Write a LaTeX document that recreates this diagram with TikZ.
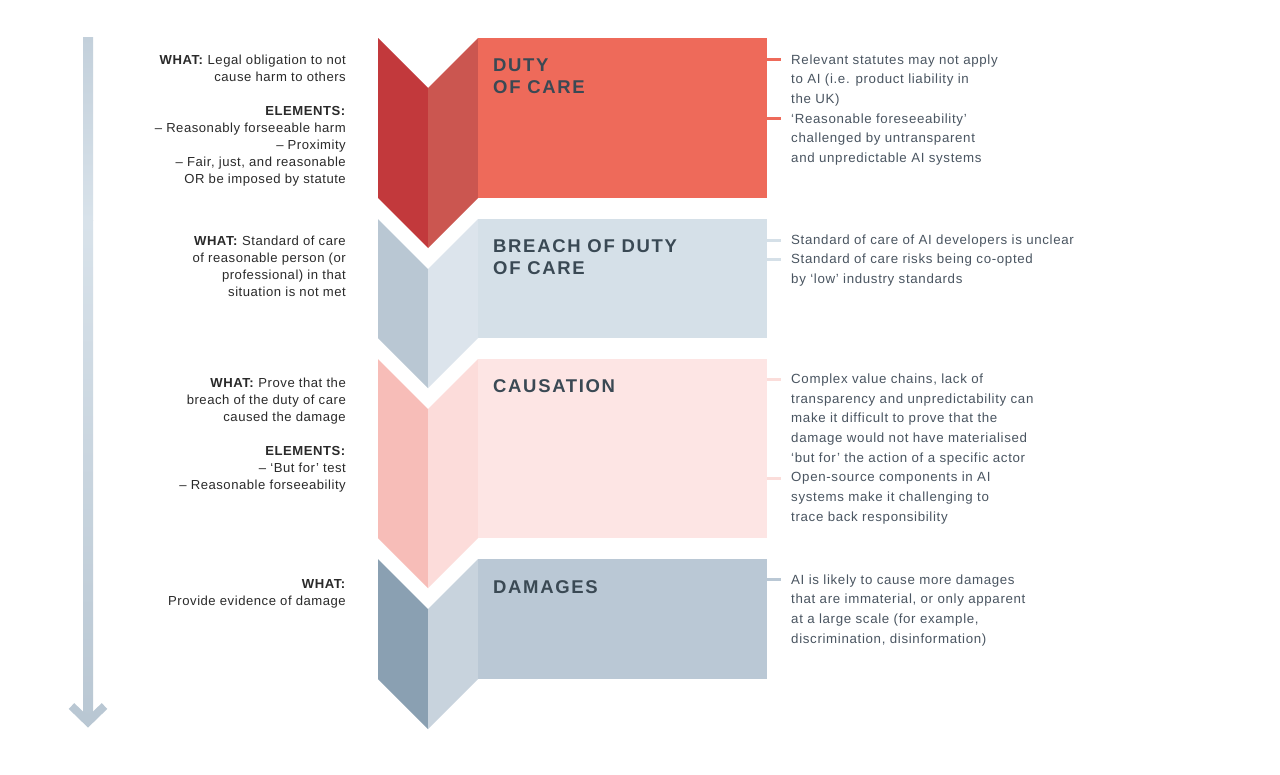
\documentclass[tikz,border=0pt]{standalone}
\usepackage{fontspec}
\setmainfont{Liberation Sans}
\newfontfamily\rfont{Liberation Sans}[LetterSpace=5]
\newfontfamily\lfont{Liberation Sans}[LetterSpace=4]
\newfontfamily\tfont{Liberation Sans}[LetterSpace=9]
\definecolor{dutyA}{HTML}{C2393C}
\definecolor{dutyB}{HTML}{CB5650}
\definecolor{dutyC}{HTML}{EE6A5A}
\definecolor{brA}{HTML}{B9C7D3}
\definecolor{brB}{HTML}{DCE4EC}
\definecolor{brC}{HTML}{D5E0E8}
\definecolor{caA}{HTML}{F7BDB8}
\definecolor{caB}{HTML}{FCDCDA}
\definecolor{caC}{HTML}{FDE5E4}
\definecolor{dmA}{HTML}{8AA0B2}
\definecolor{dmB}{HTML}{C8D3DD}
\definecolor{dmC}{HTML}{BAC8D5}
\definecolor{ttl}{HTML}{3A4954}
\definecolor{rgray}{HTML}{4A5561}
\definecolor{ltxt}{HTML}{2A2A2A}
\definecolor{arrT}{HTML}{C3D0DB}
\definecolor{arrM}{HTML}{D8E2EA}
\definecolor{arrB}{HTML}{B9C7D3}
\definecolor{caConn}{HTML}{FBDDDA}
\begin{document}
\begin{tikzpicture}[x=1pt,y=-1pt,
  block/.style={anchor=north west, inner sep=0pt, outer sep=0pt, minimum width=289pt},
  ttext/.style={anchor=base west, inner sep=0pt, text=ttl, font=\tfont\bfseries\fontsize{18.5}{22}\selectfont},
  rtext/.style={anchor=base west, inner sep=0pt, text=rgray, font=\rfont\fontsize{13.3}{19.7}\selectfont},
  ltext/.style={anchor=base east, inner sep=0pt, text=ltxt, font=\lfont\fontsize{13.1}{17}\selectfont},
  conn/.style={draw=#1, line width=3pt},
  arrw/.style={draw=arrB, line width=8pt, miter limit=10}]
\useasboundingbox[fill=white] (0,0) rectangle (1280,774);

% ---- timeline arrow
\shade[top color=arrT, bottom color=arrM] (83,37) rectangle (93,220);
\shade[top color=arrM, bottom color=arrB] (83,220) rectangle (93,722);
\coordinate (aL) at (71.5,706);
\coordinate (aT) at (88,722);
\coordinate (aR) at (104.5,706);
\draw[arrw] (aL) -- (aT) -- (aR);

% ---- Duty of care
\fill[dutyA] (378,38) -- (428,88) -- (428,248) -- (378,198) -- cycle;
\fill[dutyB] (428,88) -- (478,38) -- (478,198) -- (428,248) -- cycle;
\node[block, fill=dutyC, minimum height=160pt] (duty) at (478,38) {};
\node[ttext] (dutyT) at (493,71) {\begin{tabular}[t]{@{}l@{}}DUTY\\OF CARE\end{tabular}};
\node[rtext] (dutyR) at (791,64) {\begin{tabular}[t]{@{}l@{}}Relevant statutes may not apply\\to AI (i.e. product liability in\\the UK)\\‘Reasonable foreseeability’\\challenged by untransparent\\and unpredictable AI systems\end{tabular}};
\node[ltext] (dutyL) at (346,64.7) {\begin{tabular}[t]{@{}r@{}}\textbf{WHAT:} Legal obligation to not\\cause harm to others\\[17pt]\textbf{ELEMENTS:}\\– Reasonably forseeable harm\\– Proximity\\– Fair, just, and reasonable\\OR be imposed by statute\end{tabular}};
\coordinate (d1) at (781,59);
\coordinate (d2) at (781,118);
\draw[conn=dutyC] (duty.east |- d1) -- (d1);
\draw[conn=dutyC] (duty.east |- d2) -- (d2);

% ---- Breach of duty of care
\fill[brA] (378,219) -- (428,269) -- (428,388) -- (378,338) -- cycle;
\fill[brB] (428,269) -- (478,219) -- (478,338) -- (428,388) -- cycle;
\node[block, fill=brC, minimum height=119pt] (breach) at (478,219) {};
\node[ttext] (breachT) at (493,252) {\begin{tabular}[t]{@{}l@{}}BREACH OF DUTY\\OF CARE\end{tabular}};
\node[rtext] (breachR) at (791,244) {\begin{tabular}[t]{@{}l@{}}Standard of care of AI developers is unclear\\Standard of care risks being co-opted\\by ‘low’ industry standards\end{tabular}};
\node[ltext] (breachL) at (346,245.7) {\begin{tabular}[t]{@{}r@{}}\textbf{WHAT:} Standard of care\\of reasonable person (or\\professional) in that\\situation is not met\end{tabular}};
\coordinate (b1) at (781,240);
\coordinate (b2) at (781,259);
\draw[conn=brC] (breach.east |- b1) -- (b1);
\draw[conn=brC] (breach.east |- b2) -- (b2);

% ---- Causation
\fill[caA] (378,359) -- (428,409) -- (428,588) -- (378,538) -- cycle;
\fill[caB] (428,409) -- (478,359) -- (478,538) -- (428,588) -- cycle;
\node[block, fill=caC, minimum height=179pt] (cause) at (478,359) {};
\node[ttext] (causeT) at (493,392.7) {CAUSATION};
\node[rtext] (causeR) at (791,383.3) {\begin{tabular}[t]{@{}l@{}}Complex value chains, lack of\\transparency and unpredictability can\\make it difficult to prove that the\\damage would not have materialised\\‘but for’ the action of a specific actor\\Open-source components in AI\\systems make it challenging to\\trace back responsibility\end{tabular}};
\node[ltext] (causeL) at (346,387.3) {\begin{tabular}[t]{@{}r@{}}\textbf{WHAT:} Prove that the\\breach of the duty of care\\caused the damage\\[17pt]\textbf{ELEMENTS:}\\– ‘But for’ test\\– Reasonable forseeability\end{tabular}};
\coordinate (c1) at (781,379);
\coordinate (c2) at (781,478);
\draw[conn=caConn] (cause.east |- c1) -- (c1);
\draw[conn=caConn] (cause.east |- c2) -- (c2);

% ---- Damages
\fill[dmA] (378,559) -- (428,609) -- (428,729) -- (378,679) -- cycle;
\fill[dmB] (428,609) -- (478,559) -- (478,679) -- (428,729) -- cycle;
\node[block, fill=dmC, minimum height=120pt] (dmg) at (478,559) {};
\node[ttext] (dmgT) at (493,593.3) {DAMAGES};
\node[rtext] (dmgR) at (791,584) {\begin{tabular}[t]{@{}l@{}}AI is likely to cause more damages\\that are immaterial, or only apparent\\at a large scale (for example,\\discrimination, disinformation)\end{tabular}};
\node[ltext] (dmgL) at (346,588) {\begin{tabular}[t]{@{}r@{}}\textbf{WHAT:}\\Provide evidence of damage\end{tabular}};
\coordinate (m1) at (781,579);
\draw[conn=dmC] (dmg.east |- m1) -- (m1);
\end{tikzpicture}
\end{document}
